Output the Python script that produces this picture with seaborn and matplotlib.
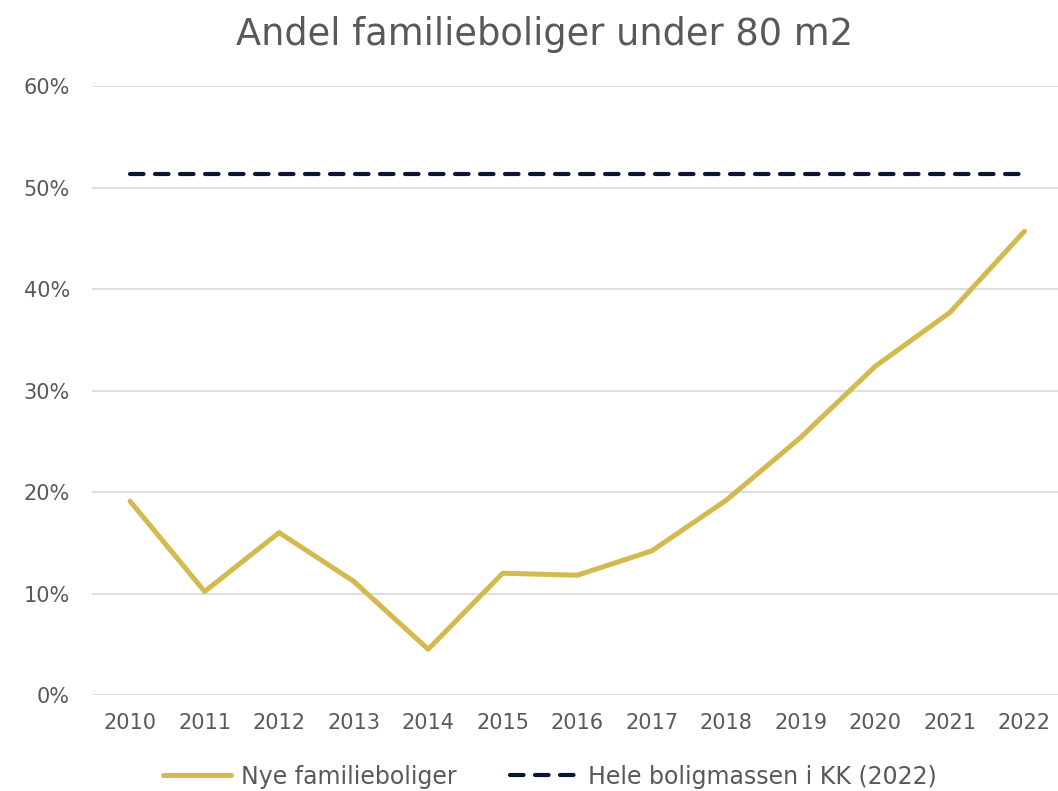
import matplotlib
matplotlib.use("Agg")
import matplotlib.pyplot as plt
import seaborn as sns
import pandas as pd
from matplotlib.ticker import FuncFormatter

years = ["2010", "2011", "2012", "2013", "2014", "2015", "2016",
         "2017", "2018", "2019", "2020", "2021", "2022"]
nye = [19.1, 10.2, 16.0, 11.2, 4.5, 12.0, 11.8, 14.2, 19.2, 25.4, 32.4, 37.7, 45.7]
hele = [51.3] * len(years)
label_nye = "Nye familieboliger"
label_hele = "Hele boligmassen i KK (2022)"
title = "Andel familieboliger under 80 m2"

sns.set_theme(style="white")
plt.rcParams["font.family"] = ["DejaVu Sans"]

text_color = "#595959"
gold = "#D4B94E"
navy = "#0B1632"

df = pd.DataFrame({"year": years, "nye": nye, "hele": hele})
df["x"] = range(len(years))

fig = plt.figure(figsize=(10.58, 7.91), dpi=100)
ax = fig.add_axes([0.087, 0.1214, 0.913, 0.7697])

sns.lineplot(data=df, x="x", y="nye", ax=ax, color=gold, linewidth=3.6,
             label=label_nye, solid_capstyle="round", solid_joinstyle="round",
             clip_on=False, zorder=3)
sns.lineplot(data=df, x="x", y="hele", ax=ax, color=navy, linewidth=3.0,
             label=label_hele, clip_on=False, zorder=3)
dl = ax.lines[1]
dl.set_dashes((3.25, 2.75))
dl.set_dash_capstyle("round")

ax.set_xlim(-0.51, 12.45)
ax.set_ylim(0, 60)
ax.set_yticks(range(0, 61, 10))
ax.yaxis.set_major_formatter(FuncFormatter(lambda v, p: f"{int(v)}%"))
ax.set_xticks(df["x"])
ax.set_xticklabels(years)
ax.grid(axis="y", color="#D9D9D9", linewidth=1.2)
ax.grid(axis="x", visible=False)
for s in ax.spines.values():
    s.set_visible(False)
ax.tick_params(axis="both", length=0, labelsize=15, colors=text_color)
ax.tick_params(axis="y", pad=16)
ax.tick_params(axis="x", pad=13)
ax.set_xlabel("")
ax.set_ylabel("")

fig.suptitle(title, fontsize=26.5, color=text_color, x=0.515, y=0.98, va="top")

leg = ax.legend(loc="center", bbox_to_anchor=(0.474, -0.134), ncol=2,
                frameon=False, fontsize=17, handlelength=2.9, columnspacing=2.3,
                handletextpad=0.4, borderpad=0)
for t in leg.get_texts():
    t.set_color(text_color)

fig.savefig("out.png", dpi=100)
